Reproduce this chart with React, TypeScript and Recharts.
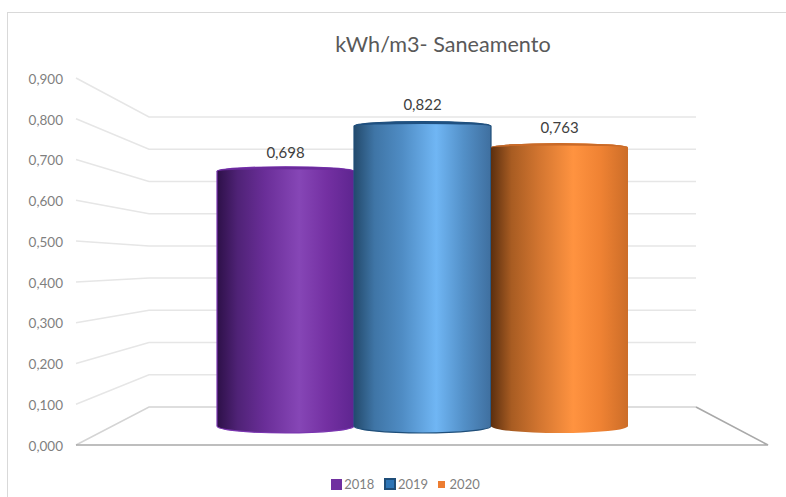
import { Bar, BarChart, Legend, XAxis, YAxis } from "recharts"

const categories = ["Saneamento"]
const years = ["2018", "2019", "2020"]
const values = [0.698, 0.822, 0.763]
const yTicks = [0, 0.1, 0.2, 0.3, 0.4, 0.5, 0.6, 0.7, 0.8, 0.9]

const chartData = categories.map((name) => ({
  name,
  ...Object.fromEntries(years.map((year, i) => [year, values[i]])),
}))

// Cylinders stand halfway into the box, so they are shorter and sit higher than the front axis.
const DEPTH_SCALE = 0.895
const DEPTH_LIFT = 19

const WALL_LEFT = 149
const WALL_RIGHT = 696
const FLOOR_FRONT_RIGHT = 768
const WALL_BOTTOM = 407
const WALL_UNIT = 322.2

const formatValue = (v: number) => v.toFixed(3).replace(".", ",")

const styles: Record<string, any> = {
  "2018": {
    id: "cylPurple",
    legend: "#7030a0",
    size: 11,
    gap: 2,
    border: "#7030a0",
    rim: "#6a2a9c",
    outline: "#7a35b0",
    labelGap: 19,
    stops: ["#2d1048", "#4f2276", "#6a2e98", "#8646b6", "#7430a2", "#5e2590"],
  },
  "2019": {
    id: "cylBlue",
    legend: "#2e75b6",
    size: 12,
    gap: 2,
    border: "#1f4e79",
    rim: "#1f5080",
    outline: "#1f4e79",
    labelGap: 21,
    stops: ["#234a6c", "#3f75a6", "#4f8cc4", "#70b6f4", "#5390c8", "#3f6f9f"],
  },
  "2020": {
    id: "cylOrange",
    legend: "#ed7d31",
    size: 7,
    gap: 5,
    border: "#ed7d31",
    rim: "#c96a28",
    outline: "none",
    labelGap: 19.5,
    stops: ["#5c2f0f", "#a85c22", "#d27530", "#ff9340", "#ef8233", "#cc6d28"],
  },
}

const STOP_OFFSETS = ["0%", "15%", "35%", "60%", "80%", "100%"]

const layerStyle = { position: "absolute", left: 0, top: 0 } as const

function Cylinder({ x, y, width, height, value, style }: any) {
  const rx = width / 2
  const topRy = 4.5
  const bottomRy = 7
  const bottom = y + height - DEPTH_LIFT
  const top = bottom - height * DEPTH_SCALE
  const right = x + width
  return (
    <g>
      <path
        d={`M${x},${top} V${bottom} A${rx},${bottomRy} 0 0 0 ${right},${bottom} V${top} A${rx},${topRy} 0 0 0 ${x},${top} Z`}
        fill={`url(#${style.id})`}
        stroke={style.outline}
        strokeWidth={1.2}
      />
      <path
        d={`M${x},${top} A${rx},${topRy} 0 0 1 ${right},${top} A${rx},${topRy - 2.5} 0 0 0 ${x},${top} Z`}
        fill={style.rim}
      />
      <text x={x + rx} y={top - style.labelGap} dy="0.35em" textAnchor="middle" fontSize={15} fill="#404040">
        {formatValue(Array.isArray(value) ? value[1] : value)}
      </text>
    </g>
  )
}

// Each axis tick also draws its gridline: along the side wall and then across the back wall.
function WallTick({ x, y, payload }: any) {
  const backY = WALL_BOTTOM - payload.value * WALL_UNIT
  const isFloor = payload.value === 0
  return (
    <g>
      <polyline
        points={`76,${y} ${WALL_LEFT},${backY} ${WALL_RIGHT},${backY}`}
        fill="none"
        stroke={isFloor ? "#d4d4d4" : "#e6e6e6"}
        strokeWidth={1.5}
      />
      {isFloor && (
        <polyline
          points={`76,${y} ${FLOOR_FRONT_RIGHT},${y} ${WALL_RIGHT},${backY}`}
          fill="none"
          stroke="#a9a9a9"
          strokeWidth={1.6}
        />
      )}
      <text x={63} y={y + 1} dy="0.35em" textAnchor="end" fontSize={13.5} fill="#7f7f7f">
        {formatValue(payload.value)}
      </text>
    </g>
  )
}

function YearLegend({ payload }: any) {
  return (
    <div style={{ display: "flex", justifyContent: "center", alignItems: "center", gap: 9.5, fontSize: 13, lineHeight: "20px", color: "#7f7f7f" }}>
      {payload.map((entry: any) => {
        const s = styles[entry.value]
        return (
          <span key={entry.value} style={{ display: "flex", alignItems: "center", gap: s.gap }}>
            <span style={{ width: s.size, height: s.size, background: s.legend, border: s.border === s.legend ? "none" : `2.5px solid ${s.border}`, boxSizing: "border-box" }} />
            {entry.value}
          </span>
        )
      })}
    </div>
  )
}

export default function App() {
  return (
    <div style={{ position: "absolute", left: 0, top: 0, width: 786, height: 497, background: "#fff", fontFamily: "Lato, sans-serif" }}>
      <div style={{ position: "absolute", left: 7, top: 12, right: 0, bottom: 0, borderTop: "1.5px solid #d9d9d9", borderLeft: "1.5px solid #d9d9d9" }} />
      <div style={{ position: "absolute", left: 100, width: 686, top: 31, textAlign: "center", fontSize: 21.6, color: "#595959" }}>
        kWh/m3- Saneamento
      </div>

      {/* Walls and axis sit in their own chart underneath, so the cylinders cover the gridlines */}
      <BarChart
        width={786}
        height={497}
        data={chartData}
        margin={{ top: 78, right: 18, bottom: 52, left: 36 }}
        style={layerStyle}
      >
        <XAxis dataKey="name" hide />
        <YAxis width={40} domain={[0, 0.9]} ticks={yTicks} interval={0} axisLine={false} tickLine={false} tick={<WallTick />} />
        <Bar dataKey={years[0]} isAnimationActive={false} shape={() => null} />
      </BarChart>

      <BarChart
        width={786}
        height={497}
        data={chartData}
        margin={{ top: 78, right: 18, bottom: 32, left: 76 }}
        barSize={137}
        barGap={0}
        style={layerStyle}
      >
        <defs>
          {years.map((year) => (
            <linearGradient key={year} id={styles[year].id} x1="0" y1="0" x2="1" y2="0">
              {styles[year].stops.map((color: string, i: number) => (
                <stop key={i} offset={STOP_OFFSETS[i]} stopColor={color} />
              ))}
            </linearGradient>
          ))}
        </defs>
        <XAxis dataKey="name" hide />
        <YAxis hide domain={[0, 0.9]} />
        <Legend
          verticalAlign="bottom"
          height={20}
          content={<YearLegend />}
          wrapperStyle={{ position: "absolute", left: 0, width: 811, bottom: 3, top: "auto" }}
        />
        {years.map((year) => (
          <Bar
            key={year}
            dataKey={year}
            fill={styles[year].legend}
            isAnimationActive={false}
            shape={(props: any) => <Cylinder {...props} style={styles[year]} />}
          />
        ))}
      </BarChart>
    </div>
  )
}
